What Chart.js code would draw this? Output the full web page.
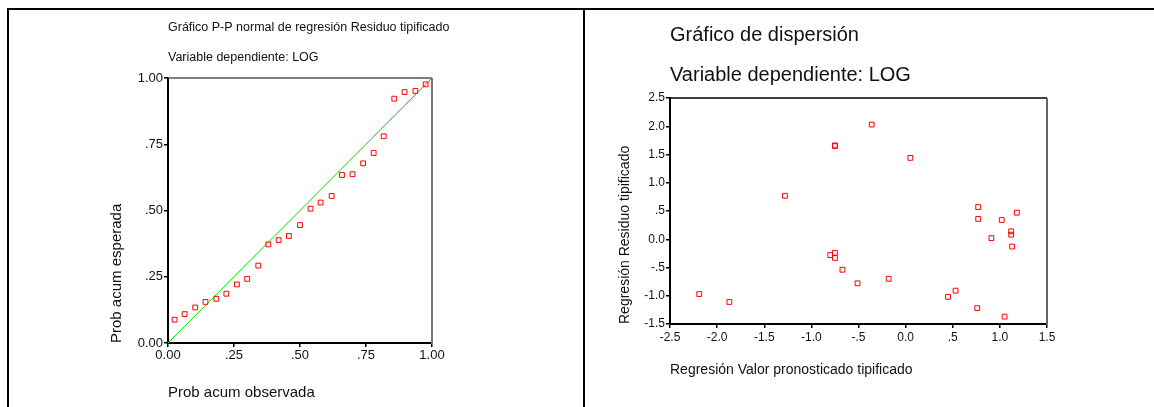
<!DOCTYPE html>
<html>
<head>
<meta charset="utf-8">
<title>Gráficos de regresión</title>
<script src="https://cdn.jsdelivr.net/npm/chart.js@4.4.1/dist/chart.umd.min.js"></script>
<style>
  html, body { margin: 0; padding: 0; background: #fff; }
  body { width: 1154px; height: 407px; position: relative; overflow: hidden; }
  .rule { position: absolute; background: #000; }
  canvas { position: absolute; }
</style>
</head>
<body>
<div class="rule" style="left:7px;top:8px;width:1147px;height:2px"></div>
<div class="rule" style="left:7px;top:8px;width:2px;height:399px"></div>
<div class="rule" style="left:583px;top:8px;width:2px;height:399px"></div>
<canvas id="pp-chart" width="573" height="397" style="left:10px;top:10px"></canvas>
<canvas id="scatter-chart" width="569" height="397" style="left:585px;top:10px"></canvas>
<script>
// Gráfico P-P: prob. acumulada observada / esperada
var ppObserved = [0.025, 0.063, 0.103, 0.142, 0.183, 0.221, 0.261, 0.300, 0.342, 0.380, 0.419, 0.458, 0.500,
                  0.540, 0.578, 0.620, 0.659, 0.699, 0.739, 0.779, 0.817, 0.857, 0.896, 0.937, 0.976];
var ppExpected = [0.088, 0.109, 0.134, 0.155, 0.167, 0.186, 0.221, 0.242, 0.292, 0.372, 0.388, 0.404, 0.445,
                  0.507, 0.530, 0.555, 0.634, 0.637, 0.678, 0.717, 0.780, 0.922, 0.947, 0.951, 0.976];
var ppDiagonal = [0, 1];
var ppTicks = [0, 0.25, 0.5, 0.75, 1];
var ppTickLabels = ['0.00', '.25', '.50', '.75', '1.00'];

// Gráfico de dispersión: valor pronosticado tipificado / residuo tipificado
var predicted = [-2.19, -1.87, -1.28, -0.80, -0.75, -0.75, -0.75, -0.75, -0.67, -0.51, -0.36, -0.18, 0.05,
                 0.45, 0.53, 0.76, 0.77, 0.77, 0.91, 1.02, 1.05, 1.12, 1.12, 1.13, 1.18];
var residual = [-0.97, -1.11, 0.77, -0.28, -0.24, -0.33, 1.66, 1.65, -0.54, -0.78, 2.03, -0.70, 1.44,
                -1.02, -0.91, -1.22, 0.57, 0.36, 0.02, 0.34, -1.37, 0.14, 0.08, -0.13, 0.47];
var predTicks = [-2.5, -2, -1.5, -1, -0.5, 0, 0.5, 1, 1.5];
var predTickLabels = ['-2.5', '-2.0', '-1.5', '-1.0', '-.5', '0.0', '.5', '1.0', '1.5'];
var resTicks = [-1.5, -1, -0.5, 0, 0.5, 1, 1.5, 2, 2.5];
var resTickLabels = ['-1.5', '-1.0', '-.5', '0.0', '.5', '1.0', '1.5', '2.0', '2.5'];

Chart.defaults.font.family = '"Liberation Sans", Arial, sans-serif';
Chart.defaults.color = '#111';
Chart.defaults.animation = false;

// titulos del panel, alineados con el area del grafico
var panelTitles = {
    id: 'panelTitles',
    afterDraw: function (chart, args, opts) {
        var ctx = chart.ctx;
        ctx.save();
        ctx.fillStyle = '#111';
        ctx.font = opts.font;
        ctx.textBaseline = 'middle';
        ctx.textAlign = 'left';
        for (var i = 0; i < opts.lines.length; i++) {
            ctx.fillText(opts.lines[i], chart.chartArea.left, opts.y[i]);
        }
        ctx.restore();
    }
};

// lineas superior y derecha del marco
var frameLines = {
    id: 'frameLines',
    afterDatasetsDraw: function (chart, args, opts) {
        var a = chart.chartArea, ctx = chart.ctx;
        ctx.save();
        ctx.lineWidth = opts.topWidth;
        ctx.strokeStyle = opts.topColor;
        ctx.beginPath();
        ctx.moveTo(a.left, a.top);
        ctx.lineTo(a.right, a.top);
        ctx.stroke();
        ctx.lineWidth = opts.rightWidth;
        ctx.strokeStyle = opts.rightColor;
        ctx.beginPath();
        ctx.moveTo(a.right, a.top);
        ctx.lineTo(a.right, a.bottom + 1);
        ctx.stroke();
        ctx.restore();
    }
};

var makeAxis = function (cfg) {
    return {
        type: 'linear',
        min: cfg.min,
        max: cfg.max,
        afterBuildTicks: function (s) {
            s.ticks = cfg.ticks.map(function (v) { return { value: v }; });
        },
        afterFit: function (s) {
            if (s.isHorizontal()) { s.height = cfg.size; } else { s.width = cfg.size; }
        },
        grid: { drawOnChartArea: false, drawTicks: true, tickLength: 4, color: '#000', lineWidth: 1.5 },
        border: { color: '#000', width: 2 },
        ticks: {
            color: '#111', font: { size: cfg.tickSize }, padding: cfg.tickPad,
            maxRotation: 0, autoSkip: false,
            callback: function (v, i) { return cfg.labels[i]; }
        },
        title: {
            display: true, text: cfg.title, align: 'start', color: '#111',
            font: { size: cfg.titleSize }, padding: cfg.titlePad
        }
    };
};

var ppPoints = ppObserved.map(function (x, i) { return { x: x, y: ppExpected[i] }; });
var diagPoints = ppDiagonal.map(function (v) { return { x: v, y: v }; });

new Chart(document.getElementById('pp-chart'), {
    type: 'scatter',
    data: {
        datasets: [{
            data: diagPoints, showLine: true, borderColor: '#00e000', borderWidth: 1,
            pointRadius: 0, order: 2
        }, {
            data: ppPoints, pointStyle: 'rect', pointRadius: 3.4, borderWidth: 1,
            borderColor: '#ff0000', backgroundColor: 'rgba(255,255,255,0)', order: 1
        }]
    },
    options: {
        responsive: false,
        layout: { padding: { left: 92, right: 151, top: 68, bottom: 0 } },
        scales: {
            x: makeAxis({ min: 0, max: 1, ticks: ppTicks, labels: ppTickLabels, size: 64, tickSize: 13, tickPad: 1,
                          title: 'Prob acum observada', titleSize: 15, titlePad: { top: 0, bottom: 5 } }),
            y: makeAxis({ min: 0, max: 1, ticks: ppTicks, labels: ppTickLabels, size: 66, tickSize: 13, tickPad: 1,
                          title: 'Prob acum esperada', titleSize: 15, titlePad: { top: 6, bottom: 0 } })
        },
        plugins: {
            legend: { display: false },
            tooltip: { enabled: false },
            panelTitles: {
                font: '12.5px "Liberation Sans", Arial, sans-serif',
                lines: ['Gráfico P-P normal de regresión Residuo tipificado', 'Variable dependiente: LOG'],
                y: [18, 48]
            },
            frameLines: { topColor: '#555', topWidth: 1.5, rightColor: '#777', rightWidth: 2 }
        }
    },
    plugins: [panelTitles, frameLines]
});

var scatterPoints = predicted.map(function (x, i) { return { x: x, y: residual[i] }; });

new Chart(document.getElementById('scatter-chart'), {
    type: 'scatter',
    data: {
        datasets: [{
            data: scatterPoints, pointStyle: 'rect', pointRadius: 3.4, borderWidth: 1,
            borderColor: '#ff0000', backgroundColor: 'rgba(255,255,255,0)'
        }]
    },
    options: {
        responsive: false,
        layout: { padding: { left: 20, right: 107, top: 88, bottom: 0 } },
        scales: {
            x: makeAxis({ min: -2.5, max: 1.5, ticks: predTicks, labels: predTickLabels, size: 83, tickSize: 12, tickPad: 2,
                          title: 'Regresión Valor pronosticado tipificado', titleSize: 14, titlePad: { top: 0, bottom: 28 } }),
            y: makeAxis({ min: -1.5, max: 2.5, ticks: resTicks, labels: resTickLabels, size: 65, tickSize: 12, tickPad: 1,
                          title: 'Regresión Residuo tipificado', titleSize: 14, titlePad: { top: 12, bottom: 0 } })
        },
        plugins: {
            legend: { display: false },
            tooltip: { enabled: false },
            panelTitles: {
                font: '20px "Liberation Sans", Arial, sans-serif',
                lines: ['Gráfico de dispersión', 'Variable dependiente: LOG'],
                y: [25, 65]
            },
            frameLines: { topColor: '#000', topWidth: 1.5, rightColor: '#666', rightWidth: 2 }
        }
    },
    plugins: [panelTitles, frameLines]
});
</script>
</body>
</html>
